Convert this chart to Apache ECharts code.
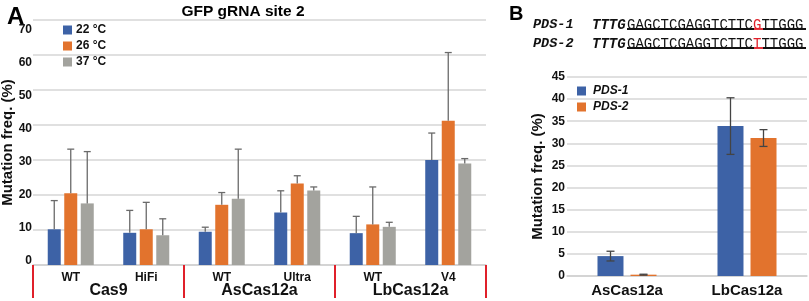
<!DOCTYPE html>
<html><head><meta charset="utf-8">
<script src="https://cdn.jsdelivr.net/npm/echarts@6/dist/echarts.min.js"></script>
<style>html,body{margin:0;padding:0;background:#fff}#c{width:809px;height:301px}</style>
</head><body><div id="c"></div>
<script>
// ---- Panel A data ----
const catsA = ['WT', 'HiFi', 'WT', 'Ultra', 'WT', 'V4'];
const groupsA = ['Cas9', 'AsCas12a', 'LbCas12a'];
const seriesNamesA = ['22 °C', '26 °C', '37 °C'];
const t22 = [10.2, 9.2, 9.5, 15.0, 9.1, 30.0];
const t26 = [20.5, 10.2, 17.2, 23.3, 11.6, 41.2];
const t37 = [17.6, 8.5, 18.9, 21.3, 10.9, 29.0];
const sd22 = [8.2, 6.4, 1.3, 6.2, 4.8, 7.7];
const sd26 = [12.6, 7.7, 3.5, 2.2, 10.7, 19.5];
const sd37 = [14.8, 4.7, 14.2, 1.0, 1.3, 1.4];
const yTicksA = [0, 10, 20, 30, 40, 50, 60, 70];
// ---- Panel B data ----
const catsB = ['AsCas12a', 'LbCas12a'];
const seriesNamesB = ['PDS-1', 'PDS-2'];
const pds1 = [4.5, 33.9];
const pds2 = [0.3, 31.2];
const sdP1 = [1.1, 6.4];
const sdP2 = [0.1, 1.9];
const yTicksB = [0, 5, 10, 15, 20, 25, 30, 35, 40, 45];

const BLUE = '#3d62a6', ORANGE = '#e2732d', GRAY = '#a3a39e';
const FONT = 'Liberation Sans, Arial, sans-serif';
const MONO = 'Liberation Mono, Courier New, monospace';

// tick labels of panel A sit slightly lower than their gridlines in the original figure
const richA = {};
yTicksA.forEach(function (v) {
  const off = Math.round(v / 70 * 14 - 4);
  richA['o' + v] = { fontSize: 12, fontWeight: 'bold', color: '#111', padding: off >= 0 ? [2 * off, 0, 0, 0] : [0, 0, -2 * off, 0] };
});

function errSeries(name, vals, sds, xi, yi, offset, twoSided, color, cap) {
  return {
    type: 'custom', name: name, xAxisIndex: xi, yAxisIndex: yi, z: 5, silent: true,
    data: vals.map((v, i) => [i, v, sds[i]]),
    renderItem: function (params, api) {
      const i = api.value(0), v = api.value(1), s = api.value(2);
      const top = api.coord([i, v + s]);
      const bot = api.coord([i, twoSided ? v - s : v]);
      const x = top[0] + offset;
      const ch = [{ type: 'line', shape: { x1: x, y1: top[1], x2: x, y2: bot[1] }, style: { stroke: color, lineWidth: 1.3 } },
      { type: 'line', shape: { x1: x - cap, y1: top[1], x2: x + cap, y2: top[1] }, style: { stroke: color, lineWidth: 1.3 } }];
      if (twoSided) ch.push({ type: 'line', shape: { x1: x - cap, y1: bot[1], x2: x + cap, y2: bot[1] }, style: { stroke: color, lineWidth: 1.3 } });
      return { type: 'group', children: ch };
    }
  };
}

const chart = echarts.init(document.getElementById('c'), null, { renderer: 'canvas' });
const pitchA = 16.5, pitchB = 33;
const option = {
  animation: false,
  textStyle: { fontFamily: FONT },
  title: [
    { text: 'A', left: 2, top: 0, textStyle: { fontSize: 24, fontWeight: 'bold', color: '#000', fontFamily: FONT } },
    { text: 'GFP gRNA site 2', left: 238, top: -1, textAlign: 'center', textStyle: { fontSize: 15.5, fontWeight: 'bold', color: '#000', fontFamily: FONT } },
    { text: 'B', left: 504, top: -1, textStyle: { fontSize: 20, fontWeight: 'bold', color: '#000', fontFamily: FONT } }
  ],
  legend: [
    { data: seriesNamesA, orient: 'vertical', left: 58, top: 19, itemWidth: 9, itemHeight: 9, itemGap: 4, icon: 'rect',
      textStyle: { fontSize: 12, fontWeight: 'bold', color: '#111', fontFamily: FONT, padding: [0, 0, 0, -1] } },
    { data: seriesNamesB, orient: 'vertical', left: 572, top: 80, itemWidth: 9, itemHeight: 9, itemGap: 4, icon: 'rect',
      textStyle: { fontSize: 12, fontWeight: 'bold', fontStyle: 'italic', color: '#111', fontFamily: FONT, padding: [0, 0, 0, 2] } }
  ],
  grid: [
    { left: 33, right: 323, top: 20, bottom: 36, outerBoundsMode: 'none', containLabel: false },
    { left: 567, right: 2, top: 77, bottom: 25, outerBoundsMode: 'none', containLabel: false }
  ],
  xAxis: [
    { type: 'category', gridIndex: 0, data: catsA, axisTick: { show: false },
      axisLine: { lineStyle: { color: '#cfcfcf', width: 1.5 } },
      axisLabel: { margin: 7, fontSize: 12, fontWeight: 'bold', color: '#111' } },
    { type: 'category', gridIndex: 0, data: groupsA, position: 'bottom',
      axisLine: { show: false },
      axisTick: { show: true, length: 33, lineStyle: { color: '#e0202a', width: 2 } },
      axisLabel: { margin: 18, fontSize: 16, fontWeight: 'bold', color: '#111' } },
    { type: 'category', gridIndex: 1, data: catsB, axisTick: { show: false },
      axisLine: { lineStyle: { color: '#cfcfcf', width: 1.5 } },
      axisLabel: { margin: 7, fontSize: 15, fontWeight: 'bold', color: '#111' } }
  ],
  yAxis: [
    { type: 'value', gridIndex: 0, min: yTicksA[0], max: yTicksA[yTicksA.length - 1], interval: 10,
      name: 'Mutation freq. (%)', nameLocation: 'middle', nameGap: 18, nameRotate: 90, nameMoveOverlap: false,
      nameTextStyle: { fontSize: 15, fontWeight: 'bold', color: '#111' },
      axisLine: { show: false }, axisTick: { show: false },
      axisLabel: { margin: 1, fontSize: 12, fontWeight: 'bold', color: '#111',
        formatter: function (v) { return '{o' + v + '|' + v + '}'; }, rich: richA },
      splitLine: { lineStyle: { color: '#d6d6d6', width: 1.5 } } },
    { type: 'value', gridIndex: 1, min: yTicksB[0], max: yTicksB[yTicksB.length - 1], interval: 5,
      name: 'Mutation freq. (%)', nameLocation: 'middle', nameGap: 22, nameRotate: 90, nameMoveOverlap: false,
      nameTextStyle: { fontSize: 15, fontWeight: 'bold', color: '#111' },
      axisLine: { show: false }, axisTick: { show: false },
      axisLabel: { margin: 2, fontSize: 12, fontWeight: 'bold', color: '#111' },
      splitLine: { lineStyle: { color: '#d6d6d6', width: 1.5 } } }
  ],
  series: [
    { type: 'bar', name: seriesNamesA[0], data: t22, xAxisIndex: 0, yAxisIndex: 0, barWidth: 13, barGap: '27%', itemStyle: { color: BLUE } },
    { type: 'bar', name: seriesNamesA[1], data: t26, xAxisIndex: 0, yAxisIndex: 0, barWidth: 13, barGap: '27%', itemStyle: { color: ORANGE } },
    { type: 'bar', name: seriesNamesA[2], data: t37, xAxisIndex: 0, yAxisIndex: 0, barWidth: 13, barGap: '27%', itemStyle: { color: GRAY } },
    errSeries('e22', t22, sd22, 0, 0, -pitchA, false, '#6a6a6a', 3.5),
    errSeries('e26', t26, sd26, 0, 0, 0, false, '#6a6a6a', 3.5),
    errSeries('e37', t37, sd37, 0, 0, pitchA, false, '#6a6a6a', 3.5),
    { type: 'bar', name: seriesNamesB[0], data: pds1, xAxisIndex: 2, yAxisIndex: 1, barWidth: 26, barGap: '27%', itemStyle: { color: BLUE } },
    { type: 'bar', name: seriesNamesB[1], data: pds2, xAxisIndex: 2, yAxisIndex: 1, barWidth: 26, barGap: '27%', itemStyle: { color: ORANGE } },
    errSeries('ep1', pds1, sdP1, 2, 1, -pitchB / 2, true, '#444', 4),
    errSeries('ep2', pds2, sdP2, 2, 1, pitchB / 2, true, '#444', 4)
  ],
  graphic: [
    { type: 'text', left: 533, top: 18, style: { text: 'PDS-1', font: 'italic bold 13.5px ' + MONO, fill: '#111' } },
    { type: 'text', left: 533, top: 37, style: { text: 'PDS-2', font: 'italic bold 13.5px ' + MONO, fill: '#111' } },
    { type: 'text', left: 592, top: 18, style: { text: 'TTTG', font: 'italic bold 14px ' + MONO, fill: '#111' } },
    { type: 'text', left: 592, top: 37, style: { text: 'TTTG', font: 'italic bold 14px ' + MONO, fill: '#111' } },
    { type: 'text', left: 627, top: 18, style: { text: '{n|GAGCTCGAGGTCTTC}{r|G}{n|TTGGG}', rich: { n: { font: '14px ' + MONO, fill: '#111' }, r: { font: '14px ' + MONO, fill: '#e0202a' } } } },
    { type: 'text', left: 627, top: 37, style: { text: '{n|GAGCTCGAGGTCTTC}{r|T}{n|TTGGG}', rich: { n: { font: '14px ' + MONO, fill: '#111' }, r: { font: '14px ' + MONO, fill: '#e0202a' } } } },
    { type: 'line', shape: { x1: 627, y1: 29, x2: 754, y2: 29 }, style: { stroke: '#111', lineWidth: 1.8 } },
    { type: 'line', shape: { x1: 754, y1: 29, x2: 763, y2: 29 }, style: { stroke: '#e0202a', lineWidth: 1.8 } },
    { type: 'line', shape: { x1: 763, y1: 29, x2: 806, y2: 29 }, style: { stroke: '#111', lineWidth: 1.8 } },
    { type: 'line', shape: { x1: 627, y1: 48, x2: 754, y2: 48 }, style: { stroke: '#111', lineWidth: 1.8 } },
    { type: 'line', shape: { x1: 754, y1: 48, x2: 763, y2: 48 }, style: { stroke: '#e0202a', lineWidth: 1.8 } },
    { type: 'line', shape: { x1: 763, y1: 48, x2: 806, y2: 48 }, style: { stroke: '#111', lineWidth: 1.8 } }
  ]
};
chart.setOption(option);
</script>
</body></html>
